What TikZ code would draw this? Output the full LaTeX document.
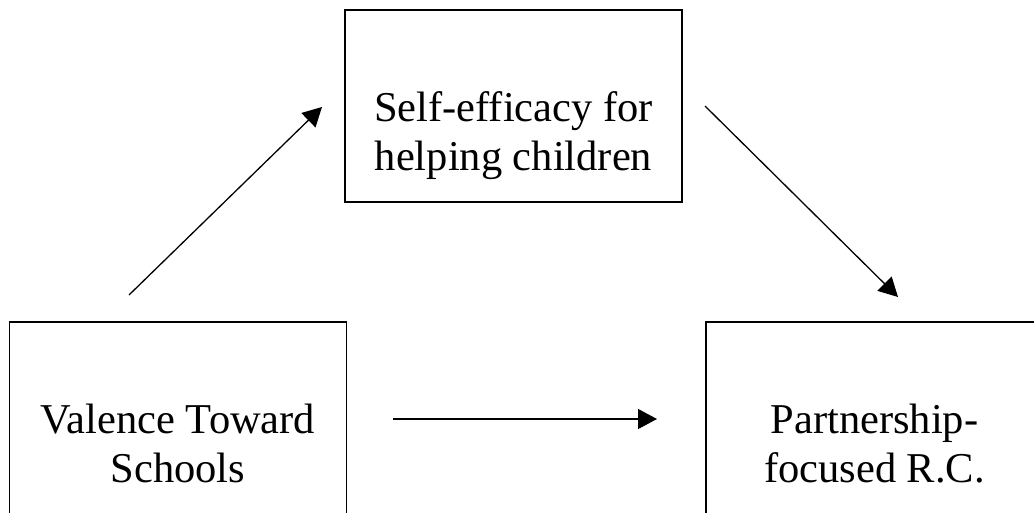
\documentclass[tikz,border=0pt]{standalone}
\usepackage{fontspec}
\setmainfont{Liberation Serif}
\usetikzlibrary{arrows.meta}

\def\boxw{337pt}
\def\boxh{192pt}

\begin{document}
\begin{tikzpicture}[x=1pt, y=1pt,
    nodes = {font=\fontsize{42.5}{49}\selectfont},
    box/.style={draw, line width=1.4pt, minimum width=\boxw, minimum height=\boxh, inner sep=0pt},
    lbl/.style={align=center, anchor=north, inner sep=0pt},
    link/.style={line width=1.3pt, -{Triangle[length=19pt,width=20pt]}}]
  \useasboundingbox (0,0) rectangle (1034,512);
  % the three boxes, text sits low in each
  \foreach \name/\x/\y/\txt in {
      self/513.5/406/{Self-efficacy for\\helping children},
      val/178/94/{Valence Toward\\Schools},
      part/874.5/94/{Partnership-\\focused R.C.}%
    } {
      \node[box] (\name) at (\x,\y) {};
      \node[lbl] (\name-txt) at ([yshift=-82.5pt]\name.north) {\txt};
    };
  % free ends of the arrows
  \coordinate (v1) at (129,217);
  \coordinate (s1) at (322,405);
  \coordinate (s2) at (705,406);
  \coordinate (p1) at (898,215);
  \coordinate (v2) at (393,93);
  \coordinate (p2) at (657,93);
  \draw[link] (v1) -- (s1);
  \draw[link] (s2) -- (p1);
  \draw[link] (v2) -- (p2);
\end{tikzpicture}
\end{document}
